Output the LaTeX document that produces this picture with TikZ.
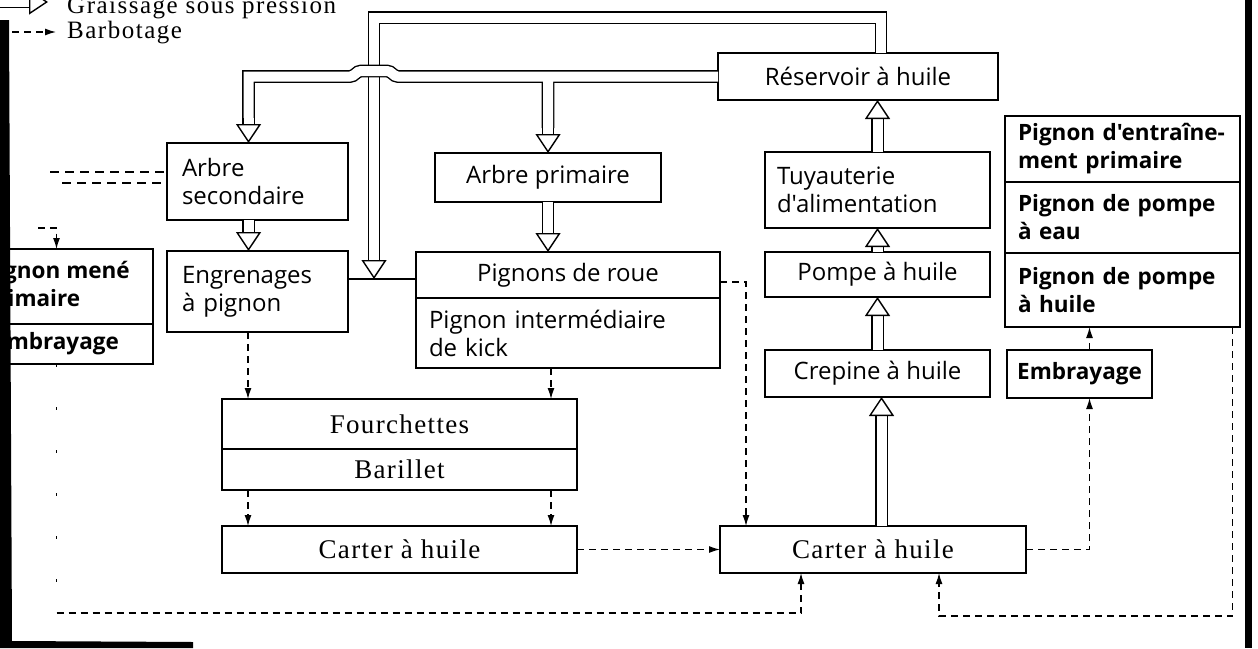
\documentclass[tikz,border=0pt]{standalone}
\usepackage{fontspec}
\setmainfont{Liberation Serif}
\newfontfamily\boxfont{Open Sans}
\newfontfamily\sumpfont{Liberation Serif}[LetterSpace=5]
\newfontfamily\keyfont{Liberation Serif}[LetterSpace=6]
\usetikzlibrary{arrows.meta,positioning}

\tikzset{
  oilhead/.tip={Triangle[open,length=19pt,width=25pt,line width=1.4pt]},
  drip/.tip={Latex[length=11pt,width=7pt]},
  box/.style={draw,line width=2.6pt,inner sep=0pt,outer sep=0pt,anchor=north west,
    font=\boxfont\fontsize{24}{28}\selectfont},
  gearbox/.style={box,font=\boxfont\bfseries\fontsize{22.5}{28}\selectfont},
  sumpbox/.style={box,font=\sumpfont\fontsize{27}{30}\selectfont},
  key/.style={inner sep=0pt,font=\keyfont\fontsize{25}{27}\selectfont},
  pipe/.style={line width=1.4pt,double=white,double distance=10pt},
  oil/.style={pipe,-{oilhead}},
  splash/.style={line width=1.3pt,dash pattern=on 7pt off 5pt,-{drip}},
  splash line/.style={line width=1.1pt,dash pattern=on 9pt off 6pt},
  faint/.style={line width=1.1pt,dash pattern=on 3pt off 40pt},
}

\begin{document}
\begin{tikzpicture}[x=1pt,y=-1pt]
\useasboundingbox (0,0) rectangle (1258,648);
\fill[white] (0,0) rectangle (1258,648);

% key
\coordinate (keyA) at (-20,2);
\coordinate (keyA') at (48,2);
\coordinate (keyB) at (0,32);
\coordinate (keyB') at (56,32);
\draw[oil] (keyA) -- (keyA');
\draw[splash] (keyB) -- (keyB');
\node[key,anchor=base west] (keyoil) at (67,13) {Graissage sous pression};
\node[key,anchor=base west] (keysplash) at (67,38) {Barbotage};

% tank and feed column
\node[box,minimum width=280pt,minimum height=47pt] (resv) at (718,53) {Réservoir à huile};
\node[box,minimum width=225pt,minimum height=76pt,text width=201pt,inner xsep=12pt,align=left]
  (tuyau) at (765,152) {Tuyauterie\\d'alimentation};
\node[box,minimum width=225pt,minimum height=45pt] (pompe) [below=24pt of tuyau] {Pompe à huile};
\node[box,minimum width=225pt,minimum height=47pt] (crep) [below=53pt of pompe] {Crepine à huile};

% shafts and gears
\node[box,minimum width=181pt,minimum height=77pt,text width=151pt,inner xsep=15pt,align=left]
  (arbsec) at (167,143) {Arbre\\secondaire};
\node[box,minimum width=181pt,minimum height=81pt,text width=151pt,inner xsep=15pt,align=left]
  (engr) [below=31pt of arbsec] {Engrenages\\à pignon};
\node[box,minimum width=226pt,minimum height=49pt] (arbpri) at (435,153) {Arbre primaire};
\node[box,minimum width=304pt,minimum height=46pt] (roue) at (416,252) {Pignons de roue};
\node[box,minimum width=304pt,minimum height=70pt,text width=278pt,inner xsep=13pt,align=left]
  (kick) [below=0pt of roue] {Pignon intermédiaire\\de kick};

% primary drive side
\node[gearbox,minimum width=235pt,minimum height=66pt,text width=209pt,inner xsep=13pt,align=left]
  (pent) at (1005,116) {Pignon d'entraîne-\\ment primaire};
\node[gearbox,minimum width=235pt,minimum height=71pt,text width=209pt,inner xsep=13pt,align=left]
  (peau) [below=0pt of pent] {Pignon de pompe\\à eau};
\node[gearbox,minimum width=235pt,minimum height=74pt,text width=209pt,inner xsep=13pt,align=left]
  (phuile) [below=0pt of peau] {Pignon de pompe\\à huile};
\node[gearbox,minimum width=145pt,minimum height=48pt] (embr) at (1007,350) {Embrayage};
\node[gearbox,minimum width=193pt,minimum height=75pt,align=left] (pmene) at (-40,249) {Pignon mené\\primaire};
\node[gearbox,minimum width=193pt,minimum height=40pt] (embrL) [below=0pt of pmene] {Embrayage};

% selector and sumps
\node[sumpbox,minimum width=355pt,minimum height=50pt] (fourch) at (222,399) {Fourchettes};
\node[sumpbox,minimum width=355pt,minimum height=41pt] (baril) [below=0pt of fourch] {Barillet};
\node[sumpbox,minimum width=355pt,minimum height=47pt] (carter1) at (222,526) {Carter à huile};
\node[sumpbox,minimum width=306pt,minimum height=47pt] (carter2) at (720,526) {Carter à huile};

% pressure lines
\coordinate (jn) at (374,279);
\coordinate (feedS) at ([xshift=-9pt,yshift=25pt]arbsec.north);
\coordinate (feedP) at ([yshift=25pt]arbpri.north);
\draw[line width=1.2pt] (engr.east |- jn) -- (roue.west |- jn);
\draw[oil] ([xshift=23pt]resv.north) -- ++(0,-35.5) -| (jn);
\draw[pipe] (feedS) |- (350,76.5)
  to[out=0,in=180] (361,71) -- (387,71) to[out=0,in=180] (398,76.5) -- (resv.west)
  (feedP |- resv.west) -- (feedP);
\draw[oil] (feedS) -- ([xshift=-9pt]arbsec.north);
\draw[oil] (feedP) -- (arbpri.north);
\draw[oil] ([xshift=-9pt]arbsec.south) -- ([xshift=-9pt]engr.north);
\draw[oil] (arbpri.south) -- (arbpri.south |- roue.north);
\draw[oil] (tuyau.north) -- (tuyau.north |- resv.south);
\draw[oil] (pompe.north) -- (tuyau.south);
\draw[oil] (crep.north) -- (pompe.south);
\draw[oil] ([xshift=4pt]carter2.north -| crep.south) -- ([xshift=4pt]crep.south);

% splash lines
\coordinate (feedA) at (50,172);
\coordinate (feedB) at (62,183);
\coordinate (dripL) at (38,228);
\coordinate (sumpL) at (801,613);
\coordinate (sumpR) at (939,616);
\draw[splash line] (feedA) -- (feedA -| arbsec.west);
\draw[splash line] (feedB) -- (feedB -| arbsec.west);
\draw[splash] (dripL) -| (pmene.north);
\draw[splash] ([xshift=-9.5pt]engr.south) -- ([xshift=-9.5pt]engr.south |- fourch.north);
\draw[splash] ([xshift=151.5pt]fourch.north |- kick.south) -- ([xshift=151.5pt]fourch.north);
\foreach \dx in {-151.5,151.5}
  \draw[splash] ([xshift=\dx pt]baril.south) -- ([xshift=\dx pt]baril.south |- carter1.north);
\path[splash]
  (carter1) edge (carter2)
  ([xshift=10pt]embr.north) edge ([xshift=10pt]embr.north |- phuile.south);
\draw[splash] ([yshift=-7pt]roue.east) -| ([xshift=-127pt]carter2.north);
\draw[splash] (carter2.east) -| ([xshift=10pt]embr.south);
\draw[splash] ([xshift=-7.5pt]phuile.south east) |- (sumpR) -- (sumpR |- carter2.south);
\draw[faint] (embrL.south) -- (embrL.south |- sumpL);
\draw[splash] (embrL.south |- sumpL) -- (sumpL) -- (sumpL |- carter2.south);

% torn page edges
\fill (0,20) -- (9,20) -- (12,641) -- (193,642) -- (193,648) -- (0,648) -- cycle;
\fill (1245,0) rectangle (1252,648);
\end{tikzpicture}
\end{document}
